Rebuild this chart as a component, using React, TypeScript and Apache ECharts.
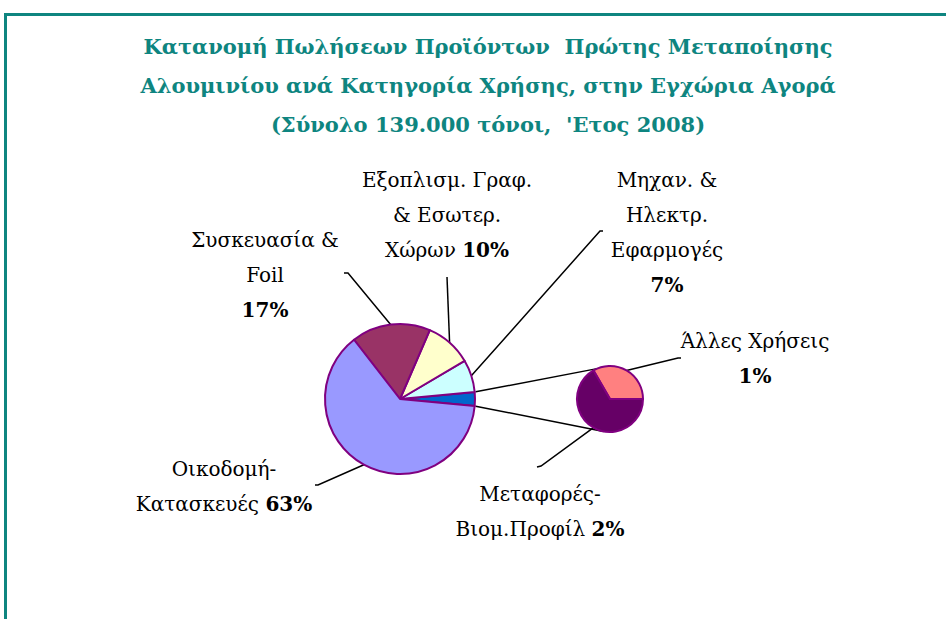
import React, { useEffect, useRef } from "react";
import * as echarts from "echarts";

const titleLines = [
  "Κατανομή Πωλήσεων Προϊόντων  Πρώτης Μεταποίησης",
  "Αλουμινίου ανά Κατηγορία Χρήσης, στην Εγχώρια Αγορά",
  "(Σύνολο 139.000 τόνοι,  'Ετος 2008)",
];

// main pie (counter-clockwise from the split-off slice)
const mainCategories = [
  "Λοιπές",
  "Μηχαν. & Ηλεκτρ. Εφαρμογές",
  "Εξοπλισμ. Γραφ. & Εσωτερ. Χώρων",
  "Συσκευασία & Foil",
  "Οικοδομή-Κατασκευές",
];
const mainValues = [3, 7, 10, 17, 63];
const mainLabelLines = [
  [] as string[],
  ["Μηχαν. &", "Ηλεκτρ.", "Εφαρμογές", ""],
  ["Εξοπλισμ. Γραφ.", "& Εσωτερ.", "Χώρων "],
  ["Συσκευασία &", "Foil", ""],
  ["Οικοδομή-", "Κατασκευές "],
];

// secondary pie
const subCategories = ["Άλλες Χρήσεις", "Μεταφορές-Βιομ.Προφίλ"];
const subValues = [1, 2];
const subLabelLines = [
  ["Άλλες Χρήσεις", ""],
  ["Μεταφορές-", "Βιομ.Προφίλ "],
];

// styling / layout
const mainColors = ["#0066CC", "#CCFFFF", "#FFFFCC", "#993366", "#9999FF"];
const subColors = ["#FF8080", "#660066"];
const MAIN = { cx: 400, cy: 399, r: 75, start: -5.4 };
const SUB = { cx: 610, cy: 399, r: 33, start: 0 };
const mainLabelPos: any[] = [
  null,
  { x: 667, y: 232, end: [600, 231], tick: [603, 231] },
  { x: 447, y: 215, end: [447, 277], tick: [447, 277] },
  { x: 265, y: 275, end: [348, 273], tick: [344, 273] },
  { x: 224, y: 486, end: [318, 485], tick: [315, 485] },
];
const subLabelPos: any[] = [
  { x: 755, y: 358, end: [678, 358], tick: [681, 358] },
  { x: 540, y: 511, end: [541, 466], tick: [537, 467] },
];
const TEAL = "#0E8580";
const FONT = "'DejaVu Serif', serif";

function midPoint(values: number[], idx: number, g: any) {
  const total = values.reduce((a, b) => a + b, 0);
  let cum = 0;
  for (let i = 0; i < idx; i++) cum += values[i];
  const a = ((g.start + ((cum + values[idx] / 2) / total) * 360) * Math.PI) / 180;
  return [g.cx + g.r * Math.cos(a), g.cy - g.r * Math.sin(a)];
}
function edgeAngle(values: number[], upto: number, g: any) {
  const total = values.reduce((a, b) => a + b, 0);
  let cum = 0;
  for (let i = 0; i < upto; i++) cum += values[i];
  return g.start + (cum / total) * 360;
}
function pt(g: any, deg: number) {
  const a = (deg * Math.PI) / 180;
  return [g.cx + g.r * Math.cos(a), g.cy - g.r * Math.sin(a)];
}

function labelText(lines: string[], pct: number) {
  return lines
    .map((l, i) => (i === lines.length - 1 ? `{n|${l}}{b|${pct}%}` : `{n|${l}}`))
    .join("\n");
}

export default function App() {
  const ref = useRef<HTMLDivElement>(null);
  useEffect(() => {
    document.body.style.margin = "0";
    const chart = echarts.init(ref.current!, null, { renderer: "svg" });
    const textStyleRich = {
      n: { fontFamily: FONT, fontSize: 20, color: "#000", lineHeight: 35 },
      b: { fontFamily: FONT, fontSize: 20, color: "#000", fontWeight: "bold", lineHeight: 35 },
    };
    const mainData = mainCategories.map((name, i) => ({
      name,
      value: mainValues[i],
      itemStyle: { color: mainColors[i] },
      label: i === 0 ? { show: false } : { show: true, formatter: labelText(mainLabelLines[i], mainValues[i]) },
      labelLine: { show: i !== 0 },
    }));
    const subData = subCategories.map((name, i) => ({
      name,
      value: subValues[i],
      itemStyle: { color: subColors[i] },
      label: { show: true, formatter: labelText(subLabelLines[i], subValues[i]) },
    }));

    const a0 = edgeAngle(mainValues, 0, MAIN);
    const a1 = edgeAngle(mainValues, 1, MAIN);
    const p0 = pt({ ...MAIN, r: MAIN.r + 1 }, a1);
    const p1 = pt({ ...MAIN, r: MAIN.r + 1 }, a0);
    const q0 = pt(SUB, 113);
    const q1 = pt(SUB, 259);

    const makeLayout = (values: number[], g: any, pos: any[]) => (p: any) => {
      const L = pos[p.dataIndex];
      if (!L) return {};
      const m = midPoint(values, p.dataIndex, g);
      return {
        x: L.x,
        y: L.y,
        align: "center",
        verticalAlign: "middle",
        labelLinePoints: [m, L.end, L.tick],
      };
    };

    chart.setOption({
      animation: false,
      title: {
        text: titleLines.join("\n"),
        left: 488,
        top: 27,
        padding: 0,
        textAlign: "center",
        textStyle: {
          fontFamily: FONT,
          fontSize: 21,
          fontWeight: "bold",
          color: TEAL,
          lineHeight: 39,
        },
      },
      graphic: [
        {
          type: "rect",
          shape: { x: 5.5, y: 14.5, width: 2000, height: 2000 },
          style: { fill: "none", stroke: TEAL, lineWidth: 3 },
          z: 10,
        },
        {
          type: "line",
          shape: { x1: p0[0], y1: p0[1], x2: q0[0], y2: q0[1] },
          style: { stroke: "#000", lineWidth: 1.5 },
        },
        {
          type: "line",
          shape: { x1: p1[0], y1: p1[1], x2: q1[0], y2: q1[1] },
          style: { stroke: "#000", lineWidth: 1.5 },
        },
      ],
      series: [
        {
          type: "pie",
          center: [MAIN.cx, MAIN.cy],
          radius: MAIN.r,
          startAngle: MAIN.start,
          clockwise: false,
          avoidLabelOverlap: false,
          itemStyle: { borderColor: "#800080", borderWidth: 2 },
          label: { position: "outside", rich: textStyleRich, align: "center" },
          labelLine: { show: true, lineStyle: { color: "#000", width: 1.5 } },
          labelLayout: makeLayout(mainValues, MAIN, mainLabelPos),
          emphasis: { disabled: true },
          data: mainData,
        },
        {
          type: "pie",
          center: [SUB.cx, SUB.cy],
          radius: SUB.r,
          startAngle: SUB.start,
          clockwise: false,
          avoidLabelOverlap: false,
          itemStyle: { borderColor: "#800080", borderWidth: 2 },
          label: { position: "outside", rich: textStyleRich, align: "center" },
          labelLine: { show: true, lineStyle: { color: "#000", width: 1.5 } },
          labelLayout: makeLayout(subValues, SUB, subLabelPos),
          emphasis: { disabled: true },
          data: subData,
        },
      ],
    });
    return () => chart.dispose();
  }, []);
  return <div ref={ref} style={{ width: 946, height: 619 }} />;
}
